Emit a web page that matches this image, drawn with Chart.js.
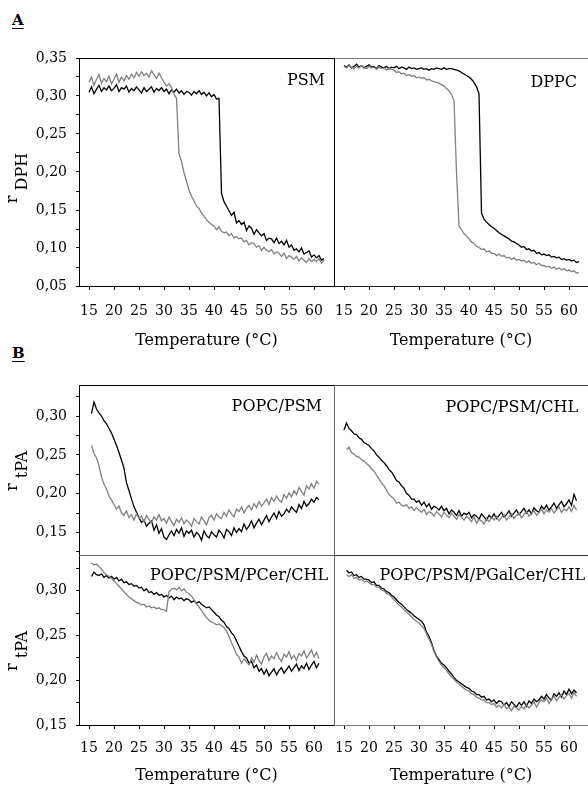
<!DOCTYPE html>
<html>
<head>
<meta charset="utf-8">
<script src="https://cdn.jsdelivr.net/npm/chart.js@4.4.1/dist/chart.umd.min.js"></script>
<style>
  body { margin: 0; background: #fff; width: 588px; height: 785px; position: relative; overflow: hidden; font-family: 'DejaVu Serif', serif; }
  canvas { position: absolute; }
  .tag { position: absolute; left: 12px; font-weight: bold; font-size: 15px; line-height: 15px; text-decoration: underline; text-underline-offset: 3px; }
</style>
</head>
<body>
<div class="tag" style="top:13px">A</div>
<div class="tag" style="top:346px">B</div>
<canvas id="chart_psm" width="334" height="302" style="left:0;top:48px"></canvas>
<canvas id="chart_dppc" width="254" height="302" style="left:334px;top:48px"></canvas>
<canvas id="chart_popcPsm" width="334" height="180" style="left:0;top:375px"></canvas>
<canvas id="chart_popcPsmChl" width="254" height="180" style="left:334px;top:375px"></canvas>
<canvas id="chart_pcer" width="334" height="230" style="left:0;top:555px"></canvas>
<canvas id="chart_pgalcer" width="254" height="230" style="left:334px;top:555px"></canvas>
<script>
// temperature (°C), shared by all traces
var temps = [
  15,15.5,16,16.5,17,17.5,18,18.5,19,19.5,
  20,20.5,21,21.5,22,22.5,23,23.5,24,24.5,
  25,25.5,26,26.5,27,27.5,28,28.5,29,29.5,
  30,30.5,31,31.5,32,32.5,33,33.5,34,34.5,
  35,35.5,36,36.5,37,37.5,38,38.5,39,39.5,
  40,40.5,41,41.5,42,42.5,43,43.5,44,44.5,
  45,45.5,46,46.5,47,47.5,48,48.5,49,49.5,
  50,50.5,51,51.5,52,52.5,53,53.5,54,54.5,
  55,55.5,56,56.5,57,57.5,58,58.5,59,59.5,
  60,60.5,61,61.5,62
];

var xTicks = [15,20,25,30,35,40,45,50,55,60];
var yTicksA = [0.05,0.075,0.1,0.125,0.15,0.175,0.2,0.225,0.25,0.275,0.3,0.325,0.35];
var yTicksBUpper = [0.125,0.15,0.175,0.2,0.225,0.25,0.275,0.3,0.325];
var yTicksBLower = [0.15,0.175,0.2,0.225,0.25,0.275,0.3,0.325];

// A - r DPH
var psmBlack = [
  .305,.312,.303,.309,.314,.306,.311,.308,.313,.307,
  .310,.315,.306,.311,.309,.313,.305,.310,.307,.312,
  .308,.304,.311,.306,.309,.312,.305,.310,.307,.311,
  .306,.309,.303,.308,.305,.309,.304,.307,.302,.306,
  .305,.301,.306,.303,.307,.302,.305,.300,.304,.299,
  .302,.296,.297,.172,.161,.155,.149,.143,.147,.133,
  .136,.131,.134,.123,.129,.126,.118,.124,.120,.116,
  .119,.110,.113,.112,.107,.113,.106,.109,.104,.110,
  .101,.104,.097,.099,.095,.100,.092,.094,.096,.088,
  .091,.087,.090,.084,.086
];
var psmGrey = [
  .318,.325,.314,.322,.328,.317,.323,.319,.326,.316,
  .322,.329,.318,.325,.320,.327,.322,.329,.324,.331,
  .326,.332,.327,.330,.325,.333,.328,.323,.330,.324,
  .318,.313,.316,.311,.302,.297,.224,.214,.199,.188,
  .176,.168,.162,.155,.152,.146,.142,.137,.134,.131,
  .129,.124,.128,.122,.120,.121,.116,.119,.113,.115,
  .112,.113,.108,.110,.104,.107,.106,.101,.103,.097,
  .101,.097,.095,.098,.092,.095,.093,.089,.093,.086,
  .090,.088,.085,.089,.083,.087,.084,.081,.086,.082,
  .085,.082,.086,.080,.084
];
var dppcBlack = [
  .340,.338,.341,.337,.339,.342,.338,.340,.337,.339,
  .341,.338,.339,.336,.340,.338,.337,.339,.336,.338,
  .337,.339,.336,.338,.337,.335,.338,.336,.337,.335,
  .336,.337,.335,.336,.334,.336,.335,.337,.336,.335,
  .337,.335,.336,.336,.335,.334,.333,.331,.329,.327,
  .325,.322,.318,.312,.303,.146,.138,.134,.131,.128,
  .126,.123,.120,.118,.116,.114,.112,.109,.108,.106,
  .104,.101,.102,.098,.099,.096,.097,.093,.094,.091,
  .092,.090,.091,.088,.089,.087,.088,.085,.086,.084,
  .085,.083,.084,.081,.082
];
var dppcGrey = [
  .339,.337,.340,.338,.336,.339,.337,.340,.338,.336,
  .339,.337,.338,.335,.338,.336,.337,.334,.336,.335,
  .334,.331,.332,.329,.330,.327,.328,.326,.327,.324,
  .325,.323,.324,.321,.322,.320,.319,.318,.317,.315,
  .313,.310,.307,.302,.294,.200,.129,.124,.119,.116,
  .112,.108,.106,.102,.101,.098,.099,.095,.096,.093,
  .093,.090,.092,.089,.090,.087,.088,.085,.087,.084,
  .085,.083,.084,.081,.083,.080,.081,.078,.080,.077,
  .077,.075,.076,.073,.075,.072,.074,.071,.073,.070,
  .071,.069,.070,.067,.068
];

// B - r tPA
var popcPsmBlack = [
  null,.303,.318,.309,.304,.300,.294,.290,.284,.278,
  .270,.262,.253,.243,.233,.214,.204,.193,.183,.176,
  .169,.163,.166,.158,.162,.165,.153,.160,.149,.155,
  .144,.141,.147,.152,.146,.154,.149,.156,.145,.152,
  .149,.153,.144,.150,.147,.140,.152,.146,.143,.151,
  .147,.144,.153,.149,.143,.154,.151,.146,.156,.150,
  .155,.151,.161,.154,.158,.165,.156,.162,.167,.160,
  .166,.172,.164,.170,.175,.168,.177,.171,.174,.180,
  .176,.183,.179,.176,.186,.181,.190,.184,.187,.193,
  .189,.195,.192,null,null
];
var popcPsmGrey = [
  null,.262,.252,.246,.236,.222,.212,.206,.197,.192,
  .186,.180,.184,.175,.172,.178,.169,.173,.166,.174,
  .168,.171,.164,.172,.167,.163,.170,.166,.173,.165,
  .168,.162,.170,.164,.159,.167,.163,.169,.161,.166,
  .163,.158,.168,.164,.161,.170,.165,.160,.169,.172,
  .166,.174,.170,.168,.176,.171,.179,.174,.170,.180,
  .177,.183,.175,.181,.185,.179,.187,.182,.190,.184,
  .188,.193,.186,.195,.190,.197,.192,.189,.199,.194,
  .201,.196,.204,.199,.208,.203,.198,.210,.206,.213,
  .207,.216,.212,null,null
];
var popcPsmChlBlack = [
  .282,.291,.284,.281,.277,.276,.272,.270,.266,.264,
  .262,.258,.255,.250,.247,.243,.240,.236,.231,.228,
  .223,.217,.215,.210,.207,.200,.198,.193,.193,.189,
  .191,.185,.189,.183,.187,.180,.184,.182,.179,.184,
  .178,.181,.174,.179,.176,.172,.178,.171,.175,.173,
  .176,.169,.173,.171,.167,.174,.170,.166,.172,.169,
  .174,.168,.172,.176,.170,.173,.178,.171,.175,.179,
  .173,.177,.181,.175,.179,.174,.182,.178,.176,.184,
  .180,.185,.179,.183,.188,.181,.186,.190,.183,.187,
  .192,.185,.199,.191,null
];
var popcPsmChlGrey = [
  null,.257,.260,.253,.251,.248,.247,.244,.242,.239,
  .236,.232,.229,.224,.219,.214,.210,.205,.199,.196,
  .193,.188,.189,.185,.184,.186,.181,.183,.178,.182,
  .179,.176,.180,.173,.177,.175,.171,.177,.174,.170,
  .176,.172,.169,.175,.171,.167,.173,.170,.166,.171,
  .168,.164,.170,.162,.167,.165,.161,.168,.164,.169,
  .166,.171,.165,.169,.173,.166,.170,.174,.168,.172,
  .175,.169,.173,.177,.171,.175,.178,.172,.176,.180,
  .174,.179,.176,.181,.175,.179,.183,.176,.180,.178,
  .183,.177,.185,.179,null
];
var pcerBlack = [
  null,.316,.321,.318,.317,.319,.315,.317,.314,.316,
  .313,.315,.311,.313,.309,.310,.307,.308,.305,.306,
  .303,.304,.300,.302,.298,.299,.296,.298,.295,.296,
  .293,.295,.292,.294,.290,.293,.291,.292,.289,.291,
  .290,.287,.289,.286,.288,.285,.283,.281,.282,.279,
  .276,.273,.271,.267,.265,.260,.258,.253,.250,.244,
  .238,.232,.227,.225,.219,.221,.214,.217,.210,.213,
  .207,.212,.205,.209,.213,.206,.211,.214,.208,.212,
  .216,.210,.214,.218,.211,.216,.213,.219,.212,.217,
  .221,.214,.219,null,null
];
var pcerGrey = [
  null,.331,.329,.330,.327,.324,.320,.318,.316,.314,
  .311,.308,.305,.302,.299,.296,.293,.291,.289,.287,
  .286,.284,.285,.282,.283,.281,.282,.280,.281,.279,
  .279,.277,.299,.302,.303,.301,.304,.300,.302,.298,
  .297,.294,.290,.285,.282,.278,.274,.270,.267,.265,
  .264,.262,.263,.261,.259,.255,.249,.242,.236,.229,
  .226,.219,.224,.221,.217,.225,.220,.228,.222,.218,
  .226,.230,.222,.227,.224,.231,.225,.221,.229,.226,
  .232,.224,.228,.222,.230,.227,.233,.225,.229,.234,
  .226,.231,.224,null,null
];
var pgalcerBlack = [
  null,.323,.320,.321,.317,.318,.315,.316,.313,.313,
  .312,.309,.310,.306,.306,.303,.302,.299,.298,.295,
  .293,.290,.287,.285,.282,.279,.277,.275,.272,.270,
  .268,.266,.262,.254,.249,.242,.233,.227,.223,.219,
  .217,.214,.210,.207,.203,.200,.198,.196,.194,.192,
  .191,.188,.187,.184,.184,.181,.182,.178,.179,.176,
  .178,.174,.177,.176,.172,.175,.171,.176,.173,.170,
  .175,.172,.176,.171,.177,.174,.179,.176,.178,.182,
  .179,.184,.180,.178,.185,.182,.186,.181,.188,.184,
  .190,.185,.189,.186,null
];
var pgalcerGrey = [
  null,.318,.316,.318,.314,.315,.312,.313,.310,.311,
  .309,.307,.307,.304,.304,.301,.300,.297,.296,.293,
  .290,.287,.284,.282,.279,.276,.274,.271,.268,.266,
  .264,.261,.258,.252,.246,.240,.232,.226,.221,.217,
  .214,.211,.207,.204,.201,.198,.196,.193,.191,.189,
  .188,.185,.184,.181,.180,.178,.178,.175,.175,.173,
  .174,.170,.172,.169,.173,.168,.170,.166,.171,.169,
  .167,.171,.168,.173,.169,.172,.176,.170,.175,.178,
  .176,.180,.174,.179,.182,.177,.181,.184,.179,.183,
  .185,.180,.187,.182,null
];

Chart.defaults.font.family = "'DejaVu Serif', serif";
Chart.defaults.font.size = 14;
Chart.defaults.color = '#000';

function pairs(values) {
  return temps.map(function (t, i) { return { x: t, y: values[i] }; });
}

function isMajor(v) {
  return Math.abs(v * 20 - Math.round(v * 20)) < 1e-6;
}

// panel borders that are not axis lines
var framePlugin = {
  id: 'frame',
  afterDraw: function (chart, args, opts) {
    var ctx = chart.ctx, a = chart.chartArea;
    ctx.save();
    ctx.lineWidth = 1;
    if (opts.top) {
      ctx.strokeStyle = opts.top;
      ctx.beginPath();
      ctx.moveTo(a.left, Math.round(a.top) + 0.5);
      ctx.lineTo(a.right, Math.round(a.top) + 0.5);
      ctx.stroke();
    }
    if (opts.left) {
      ctx.strokeStyle = opts.left;
      ctx.beginPath();
      ctx.moveTo(Math.round(a.left) + 0.5, a.top);
      ctx.lineTo(Math.round(a.left) + 0.5, a.bottom + 1);
      ctx.stroke();
    }
    ctx.restore();
  }
};

var panelLabelPlugin = {
  id: 'panelLabel',
  afterDatasetsDraw: function (chart, args, opts) {
    if (!opts.text) return;
    var ctx = chart.ctx, a = chart.chartArea;
    ctx.save();
    ctx.font = "16px 'DejaVu Serif'";
    ctx.fillStyle = '#000';
    ctx.textAlign = 'right';
    ctx.textBaseline = 'alphabetic';
    ctx.fillText(opts.text, a.right - opts.dx, a.top + opts.dy);
    ctx.restore();
  }
};

// "r" with a lowered subscript, rotated
var yTitlePlugin = {
  id: 'yTitle',
  afterDraw: function (chart, args, opts) {
    if (!opts.sub) return;
    var ctx = chart.ctx, a = chart.chartArea;
    ctx.save();
    ctx.font = "16px 'DejaVu Serif'";
    ctx.fillStyle = '#000';
    ctx.textBaseline = 'alphabetic';
    var w1 = ctx.measureText('r ').width, w2 = ctx.measureText(opts.sub).width;
    var yc = (a.top + a.bottom) / 2 + opts.shift;
    ctx.translate(17, yc + (w1 + w2) / 2);
    ctx.rotate(-Math.PI / 2);
    ctx.fillText('r', 0, 0);
    ctx.fillText(opts.sub, w1, 10);
    ctx.restore();
  }
};

function makePanel(id, cfg) {
  return new Chart(document.getElementById(id), {
    type: 'line',
    data: {
      datasets: [
        { label: 'grey', data: pairs(cfg.grey), borderColor: '#808080', borderWidth: 1.3, pointRadius: 0, tension: 0 },
        { label: 'black', data: pairs(cfg.black), borderColor: '#000000', borderWidth: 1.3, pointRadius: 0, tension: 0 }
      ]
    },
    options: {
      animation: false,
      responsive: false,
      events: [],
      layout: { padding: { top: cfg.padTop, left: 0, right: 0, bottom: 0 } },
      plugins: {
        legend: { display: false },
        tooltip: { enabled: false },
        frame: { top: cfg.top, left: cfg.left },
        panelLabel: { text: cfg.label, dx: cfg.labelDx, dy: cfg.labelDy },
        yTitle: { sub: cfg.ySub, shift: cfg.yShift || 0 }
      },
      scales: {
        x: {
          type: 'linear',
          min: 13,
          max: cfg.xMax,
          display: cfg.showX,
          afterBuildTicks: function (s) { s.ticks = xTicks.map(function (v) { return { value: v }; }); },
          afterFit: function (s) {
            s.height = cfg.showX ? cfg.xHeight : 0;
            s.paddingLeft = s.paddingRight = s.paddingTop = s.paddingBottom = 0;
          },
          grid: { drawOnChartArea: false, tickLength: 4, color: '#000' },
          border: { color: cfg.xBorder || '#000' },
          ticks: { padding: cfg.xPad, maxRotation: 0, autoSkip: false },
          title: { display: true, text: 'Temperature (°C)', font: { size: 16 }, padding: 0 }
        },
        y: {
          type: 'linear',
          min: cfg.yMin,
          max: cfg.yMax,
          display: cfg.showY,
          afterBuildTicks: function (s) { s.ticks = cfg.yTicks.map(function (v) { return { value: v }; }); },
          afterFit: function (s) {
            s.width = cfg.showY ? 79 : 0;
            s.paddingLeft = s.paddingRight = s.paddingTop = s.paddingBottom = 0;
          },
          grid: { drawOnChartArea: false, tickLength: 3, color: '#000' },
          border: { color: '#000' },
          ticks: {
            padding: 9,
            autoSkip: false,
            callback: function (v) { return isMajor(v) ? v.toFixed(2).replace('.', ',') : ''; }
          }
        }
      }
    },
    plugins: [framePlugin, panelLabelPlugin, yTitlePlugin]
  });
}

makePanel('chart_psm', {
  black: psmBlack, grey: psmGrey, label: 'PSM', labelDx: 9, labelDy: 27,
  padTop: 10, showX: true, showY: true, xMax: 64, xHeight: 64, xPad: 13,
  yMin: 0.05, yMax: 0.35, yTicks: yTicksA, ySub: 'DPH', yShift: 6, top: '#000'
});
makePanel('chart_dppc', {
  black: dppcBlack, grey: dppcGrey, label: 'DPPC', labelDx: 11, labelDy: 29,
  padTop: 10, showX: true, showY: false, xMax: 63.8, xHeight: 64, xPad: 13, xBorder: '#222',
  yMin: 0.05, yMax: 0.35, yTicks: yTicksA, top: '#777', left: '#000'
});
makePanel('chart_popcPsm', {
  black: popcPsmBlack, grey: popcPsmGrey, label: 'POPC/PSM', labelDx: 12, labelDy: 26,
  padTop: 10, showX: false, showY: true, xMax: 64, xHeight: 0, xPad: 11,
  yMin: 0.121, yMax: 0.34, yTicks: yTicksBUpper, ySub: 'tPA', yShift: 1, top: '#000'
});
makePanel('chart_popcPsmChl', {
  black: popcPsmChlBlack, grey: popcPsmChlGrey, label: 'POPC/PSM/CHL', labelDx: 10, labelDy: 27,
  padTop: 10, showX: false, showY: false, xMax: 63.8, xHeight: 0, xPad: 11,
  yMin: 0.121, yMax: 0.34, yTicks: yTicksBUpper, top: '#444', left: '#666'
});
makePanel('chart_pcer', {
  black: pcerBlack, grey: pcerGrey, label: 'POPC/PSM/PCer/CHL', labelDx: 6, labelDy: 25,
  padTop: 0, showX: true, showY: true, xMax: 64, xHeight: 60, xPad: 11,
  yMin: 0.15, yMax: 0.34, yTicks: yTicksBLower, ySub: 'tPA', yShift: 11, top: '#666'
});
makePanel('chart_pgalcer', {
  black: pgalcerBlack, grey: pgalcerGrey, label: 'POPC/PSM/PGalCer/CHL', labelDx: 3, labelDy: 25,
  padTop: 0, showX: true, showY: false, xMax: 63.8, xHeight: 60, xPad: 11, xBorder: '#777',
  yMin: 0.15, yMax: 0.34, yTicks: yTicksBLower, top: '#333', left: '#666'
});
</script>
</body>
</html>
